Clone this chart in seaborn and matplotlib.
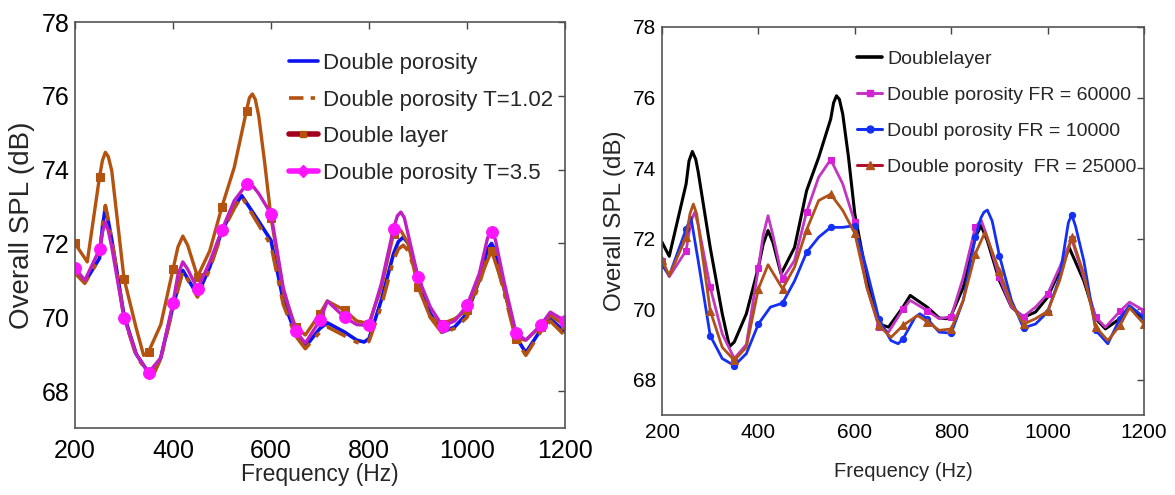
import numpy as np
import pandas as pd
import matplotlib
matplotlib.use("Agg")
import matplotlib.pyplot as plt
from matplotlib.lines import Line2D
import seaborn as sns

# ---------------- data: left panel ----------------
dp_freq = [200, 220, 250, 256, 262, 268, 275, 300, 325, 350, 360, 375, 400, 420, 450, 475, 500, 525, 540,
           550, 575, 600, 625, 650, 670, 700, 715, 750, 775, 790, 800, 825, 850, 860, 870, 880, 900, 925,
           950, 975, 1000, 1025, 1042, 1050, 1058, 1075, 1100, 1120, 1150, 1170, 1200]
dp_spl = [71.2, 70.95, 71.6, 72.44, 72.98, 72.6, 72.1, 70.05, 69.0, 68.5, 68.47, 68.9, 70.3, 71.27, 70.6,
          71.36, 72.35, 72.98, 73.3, 73.1, 72.6, 72.08, 70.46, 69.56, 69.2, 69.7, 69.85, 69.6, 69.38,
          69.33, 69.42, 70.46, 71.72, 72.05, 72.17, 72.0, 71.09, 70.1, 69.6, 69.74, 70.1, 71.0, 71.85,
          72.0, 71.8, 70.82, 69.47, 69.04, 69.65, 69.96, 69.6]
t102_spl = [71.2, 70.92, 71.6, 72.5, 73.03, 72.62, 72.1, 70.0, 68.95, 68.48, 68.45, 68.88, 70.25, 71.25,
            70.55, 71.3, 72.3, 72.95, 73.28, 73.05, 72.5, 71.95, 70.35, 69.5, 69.15, 69.6, 69.74, 69.5,
            69.32, 69.29, 69.35, 70.3, 71.55, 71.85, 71.95, 71.8, 71.0, 70.0, 69.56, 69.7, 70.0, 70.9,
            71.65, 71.77, 71.6, 70.7, 69.4, 68.97, 69.6, 69.9, 69.5]
dl_freq = [200, 225, 250, 256, 262, 268, 275, 300, 325, 340, 350, 375, 400, 410, 420, 430, 450, 475, 500,
           525, 550, 556, 562, 568, 575, 587, 600, 625, 650, 670, 700, 715, 750, 775, 800, 825, 850, 865,
           880, 900, 925, 950, 975, 1000, 1025, 1050, 1075, 1100, 1120, 1150, 1170, 1200]
dl_spl = [72.0, 71.5, 73.8, 74.25, 74.47, 74.35, 73.97, 71.05, 69.7, 68.97, 69.06, 69.8, 71.3, 71.9, 72.2,
          71.95, 71.1, 71.8, 73.0, 74.06, 75.6, 75.95, 76.05, 75.9, 75.45, 74.2, 72.7, 70.7, 69.74,
          69.52, 70.1, 70.44, 70.19, 69.9, 69.83, 70.8, 72.26, 72.35, 72.0, 70.82, 70.0, 69.83, 69.96,
          70.19, 71.0, 71.8, 70.8, 69.42, 69.38, 69.75, 70.05, 69.78]
t35_freq = [200, 220, 250, 256, 262, 268, 275, 300, 325, 350, 375, 400, 410, 420, 430, 450, 475, 500, 525,
            550, 562, 575, 600, 625, 650, 670, 700, 715, 750, 775, 800, 825, 850, 858, 865, 872, 900, 925,
            950, 975, 1000, 1025, 1042, 1050, 1058, 1075, 1100, 1120, 1150, 1170, 1200]
t35_spl = [71.34, 71.0, 71.84, 72.3, 72.58, 72.35, 71.9, 69.99, 69.0, 68.5, 68.9, 70.39, 71.15, 71.5,
           71.3, 70.77, 71.5, 72.37, 73.16, 73.6, 73.57, 73.35, 72.8, 70.8, 69.63, 69.3, 69.92, 70.44,
           70.0, 69.8, 69.78, 70.9, 72.4, 72.75, 72.85, 72.7, 71.09, 70.28, 69.76, 69.9, 70.32, 71.18,
           72.15, 72.32, 72.1, 71.0, 69.58, 69.38, 69.78, 70.14, 69.9]

# ---------------- data: right panel ----------------
bl_freq = [200, 215, 250, 256, 263, 270, 275, 300, 325, 340, 350, 375, 400, 410, 420, 430, 447, 475, 500,
           525, 550, 556, 562, 568, 575, 587, 600, 625, 650, 670, 700, 715, 750, 775, 790, 800, 825, 850,
           862, 875, 900, 925, 950, 975, 1000, 1025, 1045, 1075, 1100, 1120, 1150, 1170, 1200]
bl_spl = [71.9, 71.5, 73.55, 74.2, 74.47, 74.25, 73.9, 71.75, 69.87, 68.94, 69.07, 69.87, 71.19, 71.85,
          72.23, 71.9, 71.0, 71.75, 73.36, 74.3, 75.39, 75.85, 76.05, 75.95, 75.53, 74.3, 72.7, 70.9,
          69.58, 69.49, 70.06, 70.39, 70.06, 69.75, 69.73, 69.82, 70.62, 72.04, 72.37, 71.94, 70.81,
          70.06, 69.77, 69.92, 70.34, 71.09, 71.74, 70.81, 69.73, 69.44, 69.73, 70.06, 69.73]
fr60_freq = [200, 215, 250, 260, 268, 275, 300, 325, 350, 375, 400, 410, 420, 430, 450, 475, 500, 525, 550,
             575, 600, 625, 650, 670, 700, 715, 750, 775, 800, 825, 850, 862, 875, 900, 925, 950, 975,
             1000, 1025, 1050, 1075, 1100, 1120, 1150, 1170, 1200]
fr60_spl = [71.38, 70.92, 71.66, 72.5, 72.75, 72.4, 70.62, 69.3, 68.6, 69.0, 71.17, 72.1, 72.65, 72.1,
            70.86, 71.38, 72.76, 73.74, 74.24, 73.55, 72.46, 70.62, 69.5, 69.35, 70.0, 70.25, 69.96, 69.73,
            69.79, 70.9, 72.32, 72.53, 72.04, 70.9, 70.06, 69.79, 70.06, 70.43, 71.19, 71.99, 70.9, 69.77,
            69.49, 69.94, 70.2, 69.96]
fr10_freq = [200, 215, 250, 260, 275, 300, 325, 350, 375, 400, 425, 450, 475, 500, 525, 550, 575, 600, 625,
             650, 675, 690, 700, 725, 735, 750, 775, 800, 825, 850, 862, 868, 875, 885, 900, 925, 950, 975,
             1000, 1025, 1043, 1050, 1058, 1075, 1100, 1125, 1150, 1170, 1200]
fr10_spl = [71.26, 70.95, 72.27, 72.6, 71.38, 69.25, 68.6, 68.4, 68.74, 69.58, 70.06, 70.17, 70.8, 71.61,
            72.04, 72.32, 72.32, 72.37, 71.1, 69.73, 69.11, 69.02, 69.16, 69.77, 69.87, 69.73, 69.35,
            69.32, 70.25, 72.04, 72.6, 72.75, 72.81, 72.5, 71.52, 70.25, 69.47, 69.58, 69.92, 70.9, 72.45,
            72.68, 72.35, 71.38, 69.4, 69.02, 69.73, 70.1, 69.77]
fr25_freq = [200, 215, 250, 258, 265, 272, 300, 325, 350, 375, 400, 420, 450, 475, 500, 525, 550, 575, 600,
             625, 650, 675, 700, 730, 750, 775, 800, 825, 850, 870, 900, 925, 950, 975, 1000, 1025, 1050,
             1075, 1100, 1125, 1150, 1170, 1200]
fr25_spl = [71.4, 70.95, 72.04, 72.7, 72.98, 72.7, 69.96, 68.92, 68.55, 68.92, 70.58, 71.26, 70.58, 71.19,
            72.25, 73.08, 73.26, 72.8, 72.15, 70.62, 69.54, 69.2, 69.54, 69.82, 69.65, 69.4, 69.44, 70.25,
            71.57, 72.18, 71.08, 70.15, 69.58, 69.73, 69.94, 70.81, 72.04, 71.0, 69.49, 69.11, 69.54,
            70.04, 69.58]

left_labels = ["Double porosity", "Double porosity T=1.02", "Double layer", "Double porosity T=3.5"]
right_labels = ["Doublelayer", "Double porosity FR = 60000", "Doubl porosity FR = 10000",
                "Double porosity  FR = 25000"]
xticks = [200, 400, 600, 800, 1000, 1200]
yticks = [68, 70, 72, 74, 76, 78]

# ---------------- style ----------------
sns.set_theme(style="white")
plt.rcParams["font.family"] = ["Liberation Sans", "DejaVu Sans"]

fig = plt.figure(figsize=(11.75, 4.95), dpi=100)
axL = fig.add_axes([75 / 1175, 1 - 428 / 495, 490 / 1175, 406 / 495])
axR = fig.add_axes([662 / 1175, 1 - 415 / 495, 482 / 1175, 388 / 495])

BLUE = "#0c12f2"
BROWN = "#b4520f"
DARKRED = "#a3001e"
MAG_LINE = "#c21fc2"
MAG_MK = "#ff14ff"


def mask50(freqs):
    return [f % 50 == 0 for f in freqs]


def draw(ax, freqs, vals, **kw):
    df = pd.DataFrame({"f": freqs, "v": vals})
    sns.lineplot(data=df, x="f", y="v", ax=ax, sort=False, estimator=None, **kw)


# left panel
draw(axL, dp_freq, dp_spl, color=BLUE, lw=2.6)
draw(axL, dp_freq, t102_spl, color=BROWN, lw=2.6, linestyle=(0, (6, 2.5, 1.5, 2.5)))
draw(axL, dl_freq, dl_spl, color=BROWN, lw=2.4, marker="s", markersize=5.5,
     markevery=mask50(dl_freq), markerfacecolor=BROWN, markeredgecolor=BROWN)
draw(axL, t35_freq, t35_spl, color=MAG_LINE, lw=2.4, marker="o", markersize=8.5,
     markevery=mask50(t35_freq), markerfacecolor=MAG_MK, markeredgecolor=MAG_MK)

# right panel
R_MAG = "#c236c2"
R_MAG_MK = "#d81ed8"
R_BLUE = "#1530f5"
R_BROWN = "#b0511a"
draw(axR, bl_freq, bl_spl, color="black", lw=2.2)
draw(axR, fr60_freq, fr60_spl, color=R_MAG, lw=2.0, marker="s", markersize=5,
     markevery=mask50(fr60_freq), markerfacecolor=R_MAG_MK, markeredgecolor=R_MAG_MK)
draw(axR, fr10_freq, fr10_spl, color=R_BLUE, lw=2.0, marker="o", markersize=4.5,
     markevery=mask50(fr10_freq), markerfacecolor=R_BLUE, markeredgecolor=R_BLUE)
draw(axR, fr25_freq, fr25_spl, color=R_BROWN, lw=2.0, marker="^", markersize=5.5,
     markevery=mask50(fr25_freq), markerfacecolor=R_BROWN, markeredgecolor=R_BROWN)

settings = ((axL, 18, 16.5, 20, 8, 0), (axR, 15, 14.5, 17.5, 6, 14))
for ax, tsize, xls, yls, xpad, xlpad in settings:
    ax.set_xlim(200, 1200)
    ax.set_ylim(67, 78)
    ax.set_xticks(xticks)
    ax.set_yticks(yticks)
    ax.tick_params(direction="in", length=5, width=1, colors="#444444", top=True, right=True,
                   labelsize=tsize, labelcolor="black", pad=4)
    ax.tick_params(axis="x", pad=xpad)
    for s in ax.spines.values():
        s.set_color("#555555")
        s.set_linewidth(1.2)
    ax.set_xlabel("Frequency (Hz)", fontsize=xls, labelpad=xlpad)
    ax.set_ylabel("Overall SPL (dB)", fontsize=yls, labelpad=5)
    ax.grid(False)

# legends
hL = [Line2D([], [], color=BLUE, lw=2.6),
      Line2D([], [], color=BROWN, lw=2.6, linestyle=(0, (4, 2, 1.2, 2))),
      Line2D([], [], color=DARKRED, lw=4, marker="s", markersize=5, markerfacecolor=BROWN,
             markeredgecolor=BROWN),
      Line2D([], [], color=MAG_MK, lw=4, marker="D", markersize=6, markerfacecolor=MAG_MK,
             markeredgecolor=MAG_MK)]
legL = axL.legend(hL, left_labels, loc="upper left", bbox_to_anchor=(289 / 1175, 1 - 53 / 495),
                  bbox_transform=fig.transFigure, frameon=False, fontsize=16, handlelength=1.3,
                  handletextpad=0.25, labelspacing=0.7, borderaxespad=0, borderpad=0)

hR = [Line2D([], [], color="black", lw=2.6),
      Line2D([], [], color=R_MAG, lw=2.2, marker="s", markersize=5, markerfacecolor=R_MAG_MK,
             markeredgecolor=R_MAG_MK),
      Line2D([], [], color=R_BLUE, lw=2.2, marker="o", markersize=5, markerfacecolor=R_BLUE,
             markeredgecolor=R_BLUE),
      Line2D([], [], color="#b0102a", lw=2.2, marker="^", markersize=6, markerfacecolor=R_BROWN,
             markeredgecolor=R_BROWN)]
legR = axR.legend(hR, right_labels, loc="upper left", bbox_to_anchor=(857 / 1175, 1 - 50 / 495),
                  bbox_transform=fig.transFigure, frameon=False, fontsize=14, handlelength=1.3,
                  handletextpad=0.25, labelspacing=0.95, borderaxespad=0, borderpad=0)

fig.savefig("out.png", dpi=100, facecolor="white")
